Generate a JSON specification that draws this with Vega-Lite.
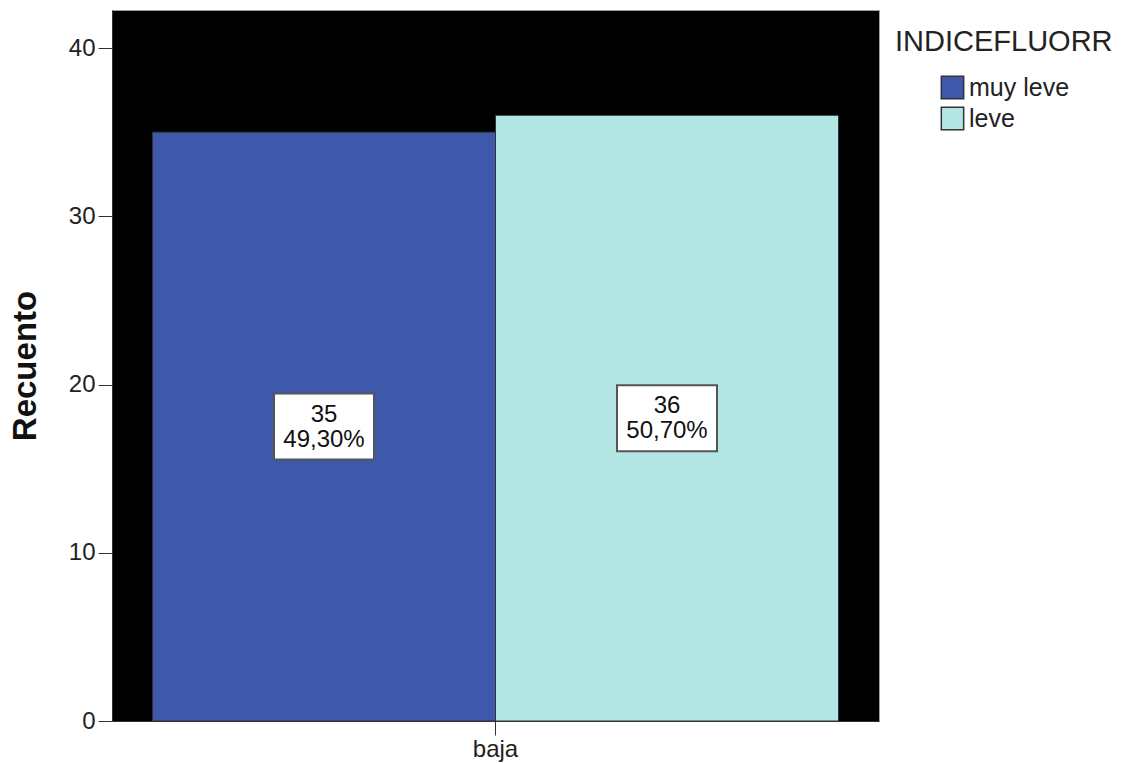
{
  "$schema": "https://vega.github.io/schema/vega-lite/v6.json",
  "width": 767,
  "height": 711,
  "autosize": "none",
  "padding": {"left": 112, "top": 10, "right": 245, "bottom": 42},
  "background": "white",
  "config": {
    "view": {"fill": "black", "stroke": "#a0a0a0", "strokeWidth": 1},
    "font": "Liberation Sans"
  },
  "data": {
    "values": [
      {"grupo": "baja", "indice": "muy leve", "count": 35, "pct": "49,30%"},
      {"grupo": "baja", "indice": "leve", "count": 36, "pct": "50,70%"}
    ]
  },
  "transform": [
    {"calculate": "datum.count / 2", "as": "mid"},
    {"calculate": "datum.count + '\\n' + datum.pct", "as": "label"}
  ],
  "encoding": {
    "x": {
      "field": "grupo",
      "type": "nominal",
      "scale": {"paddingOuter": 0.059, "paddingInner": 0},
      "axis": {
        "title": null,
        "labelAngle": 0,
        "labelFontSize": 24,
        "labelColor": "#222",
        "tickSize": 14,
        "tickColor": "#333",
        "domainColor": "#333",
        "labelPadding": 2
      }
    },
    "xOffset": {
      "field": "indice",
      "type": "nominal",
      "sort": ["muy leve", "leve"],
      "scale": {"paddingInner": 0, "paddingOuter": 0}
    }
  },
  "layer": [
    {
      "mark": {"type": "bar", "stroke": "#333", "strokeWidth": 1},
      "encoding": {
        "y": {
          "field": "count",
          "type": "quantitative",
          "scale": {"domain": [0, 42.26], "nice": false},
          "axis": {
            "values": [0, 10, 20, 30, 40],
            "grid": false,
            "labelFontSize": 24,
            "labelColor": "#222",
            "labelPadding": 3,
            "tickSize": 14,
            "tickColor": "#333",
            "domainColor": "#333",
            "title": "Recuento",
            "titleFontSize": 33,
            "titleFontWeight": "bold",
            "titleColor": "#111",
            "titlePadding": 26
          }
        },
        "color": {
          "field": "indice",
          "type": "nominal",
          "scale": {"domain": ["muy leve", "leve"], "range": ["#3E58AC", "#B4E6E6"]},
          "legend": {
            "title": "INDICEFLUORR",
            "orient": "none",
            "legendX": 783,
            "legendY": 18,
            "titleFontSize": 29,
            "titleFontWeight": "normal",
            "titleColor": "#222",
            "titleLimit": 400,
            "titlePadding": 18,
            "labelFontSize": 25,
            "labelColor": "#222",
            "symbolType": "square",
            "symbolSize": 500,
            "symbolStrokeColor": "#333",
            "symbolStrokeWidth": 1.5,
            "symbolOffset": 45,
            "labelOffset": 4,
            "rowPadding": 2
          }
        }
      }
    },
    {
      "mark": {
        "type": "point",
        "shape": "M-1,-0.66H1V0.66H-1Z",
        "filled": true,
        "fill": "white",
        "stroke": "#555",
        "strokeWidth": 2,
        "size": 10000,
        "opacity": 1
      },
      "encoding": {"y": {"field": "mid", "type": "quantitative"}}
    },
    {
      "mark": {
        "type": "text",
        "fontSize": 24,
        "lineBreak": "\n",
        "lineHeight": 25,
        "baseline": "middle",
        "dy": -12,
        "color": "#111"
      },
      "encoding": {
        "y": {"field": "mid", "type": "quantitative"},
        "text": {"field": "label"}
      }
    }
  ]
}
